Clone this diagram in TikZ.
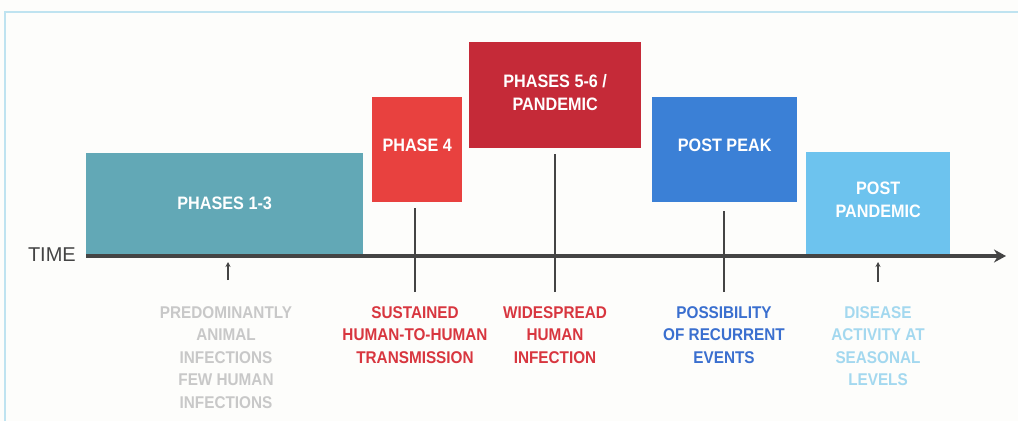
\documentclass[tikz,border=0pt]{standalone}
\usepackage{fontspec}
\setmainfont{Liberation Sans}[FakeStretch=0.9]
\newfontfamily\timefont{Liberation Sans}
\usetikzlibrary{arrows.meta}
\definecolor{bgc}{HTML}{FDFDFB}
\definecolor{framec}{HTML}{BFE3F0}
\definecolor{teal13}{HTML}{62A8B6}
\definecolor{red4}{HTML}{E8413F}
\definecolor{red56}{HTML}{C52A38}
\definecolor{bluepp}{HTML}{3B80D6}
\definecolor{lbluepp}{HTML}{6DC3EE}
\definecolor{axisc}{HTML}{444444}
\definecolor{txtgray}{HTML}{C8C8C8}
\definecolor{txtred}{HTML}{D8363F}
\definecolor{txtblue}{HTML}{3A6FCF}
\definecolor{txtlblue}{HTML}{A3D8EF}
\tikzset{
  phasebox/.style={draw=none, inner sep=0pt, anchor=north west},
  boxtext/.style={text=white, font=\fontsize{18}{23}\selectfont\bfseries, align=center},
  lbl/.style={inner sep=0pt, anchor=north, align=center,
    font=\fontsize{17}{22.5}\selectfont\bfseries},
  tick/.style={draw=axisc, line width=1.3pt},
  tickarrow/.style={tick, -{Stealth[length=5pt,width=5pt]}}
}
\begin{document}
\begin{tikzpicture}[x=1pt,y=-1pt]
\useasboundingbox (0,0) rectangle (1018,421);
\fill[bgc] (0,0) rectangle (1018,421);
\draw[framec, line width=2.5pt] (5,421) -- (5,12) -- (1018,12);

% phase boxes
\node[phasebox, fill=teal13, minimum width=277pt, minimum height=101pt] (b13) at (86,153) {};
\node[boxtext] (t13) at (b13.center) {PHASES 1-3};
\node[phasebox, fill=red4, minimum width=90pt, minimum height=105pt] (b4) at (372,97) {};
\node[boxtext] (t4) at ([yshift=4pt]b4.center) {PHASE 4};
\node[phasebox, fill=red56, minimum width=172pt, minimum height=106pt] (b56) at (469,42) {};
\node[boxtext] (t56) at ([yshift=3pt]b56.center) {PHASES 5-6 /\\PANDEMIC};
\node[phasebox, fill=bluepp, minimum width=145pt, minimum height=105pt] (bpp) at (652,97) {};
\node[boxtext] (tpp) at ([yshift=4pt]bpp.center) {POST PEAK};
\node[phasebox, fill=lbluepp, minimum width=144pt, minimum height=102pt] (bpd) at (806,152) {};
\node[boxtext] (tpd) at ([yshift=3pt]bpd.center) {POST\\PANDEMIC};

% axis
\coordinate (axs) at (86,256);
\coordinate (axe) at (1006,256);
\draw[axisc, line width=3.5pt, -{Stealth[length=12pt,width=13pt]}] (axs) -- (axe);
\node[anchor=east, inner sep=0pt, text=axisc, font=\timefont\fontsize{20}{24}\selectfont] (time) at (76,255) {TIME};

% labels
\node[lbl, text=txtgray] (l1) at (226,306) {PREDOMINANTLY\\ANIMAL\\INFECTIONS\\FEW HUMAN\\INFECTIONS};
\node[lbl, text=txtred] (l2) at (415,306) {SUSTAINED\\HUMAN-TO-HUMAN\\TRANSMISSION};
\node[lbl, text=txtred] (l3) at (555,306) {WIDESPREAD\\HUMAN\\INFECTION};
\node[lbl, text=txtblue] (l4) at (724,306) {POSSIBILITY\\OF RECURRENT\\EVENTS};
\node[lbl, text=txtlblue] (l5) at (878,306) {DISEASE\\ACTIVITY AT\\SEASONAL\\LEVELS};

% connectors
\draw[tickarrow] ([xshift=2pt,yshift=26pt]l1.north) -- ([xshift=2pt,yshift=44pt]l1.north);
\draw[tick] ([yshift=14pt]l2.north) -- ([yshift=-6pt]b4.south -| l2.north);
\draw[tick] ([yshift=14pt]l3.north) -- ([yshift=-6pt]b56.south -| l3.north);
\draw[tick] ([yshift=14pt]l4.north) -- ([yshift=-9pt]bpp.south -| l4.north);
\draw[tickarrow] ([yshift=24pt]l5.north) -- ([yshift=44pt]l5.north);
\end{tikzpicture}
\end{document}
